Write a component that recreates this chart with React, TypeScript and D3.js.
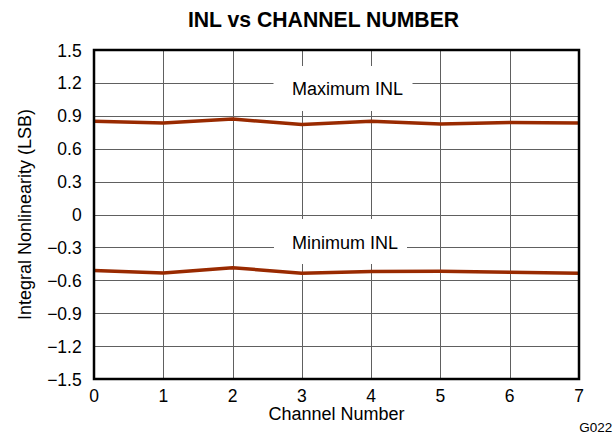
import React from "react";
import * as d3 from "d3";

const channels = [0, 1, 2, 3, 4, 5, 6, 7];
const maxINL = [0.85, 0.835, 0.87, 0.82, 0.85, 0.825, 0.84, 0.835];
const minINL = [-0.51, -0.533, -0.485, -0.535, -0.52, -0.518, -0.527, -0.536];
const yTicks = [1.5, 1.2, 0.9, 0.6, 0.3, 0, -0.3, -0.6, -0.9, -1.2, -1.5];
const xTicks = [0, 1, 2, 3, 4, 5, 6, 7];

const W = 616;
const H = 434;
const M = { left: 94, right: 579, top: 50, bottom: 379 };
const FONT = "'Liberation Sans', Arial, Helvetica, sans-serif";
const LINE = "#992a00";
const GRID = "#606060";

function fmt(v: number): string {
  if (v === 0) return "0";
  const s = Math.abs(v).toFixed(1);
  return v < 0 ? "\u2212" + s : s;
}

export default function App() {
  const x = d3.scaleLinear().domain([0, 7]).range([M.left, M.right]);
  const y = d3.scaleLinear().domain([-1.5, 1.5]).range([M.bottom, M.top]);
  const line = d3
    .line<number>()
    .x((_, i) => x(channels[i]))
    .y((d) => y(d))
    .curve(d3.curveLinear);

  return (
    <div style={{ position: "absolute", left: 0, top: 0 }}>
      <svg width={W} height={H} style={{ display: "block", background: "#fff" }} fontFamily={FONT}>
        <rect x={0} y={0} width={W} height={H} fill="#fff" />
        <text x={323.5} y={26.5} textAnchor="middle" fontSize={21.2} fontWeight="bold" fill="#000">
          INL vs CHANNEL NUMBER
        </text>
        {/* grid */}
        {yTicks.map((t) => (
          <line key={"gy" + t} x1={M.left} x2={M.right} y1={Math.round(y(t)) + 0.5} y2={Math.round(y(t)) + 0.5} stroke={GRID} strokeWidth={1} />
        ))}
        {xTicks.map((t) => (
          <line key={"gx" + t} x1={Math.round(x(t)) + 0.5} x2={Math.round(x(t)) + 0.5} y1={M.top} y2={M.bottom} stroke={GRID} strokeWidth={1} />
        ))}
        {/* label boxes */}
        <rect x={273.5} y={66} width={139} height={45} fill="#fff" />
        <rect x={274} y={219} width={133} height={45} fill="#fff" />
        <text x={347.5} y={95} textAnchor="middle" fontSize={18} fill="#000">Maximum INL</text>
        <text x={345} y={248.5} textAnchor="middle" fontSize={18} fill="#000">Minimum INL</text>
        {/* data */}
        <path d={line(maxINL) || ""} fill="none" stroke={LINE} strokeWidth={3.5} strokeLinejoin="round" />
        <path d={line(minINL) || ""} fill="none" stroke={LINE} strokeWidth={3.5} strokeLinejoin="round" />
        {/* frame */}
        <rect x={M.left} y={M.top} width={M.right - M.left} height={M.bottom - M.top} fill="none" stroke="#000" strokeWidth={2.5} />
        {/* tick labels */}
        {yTicks.map((t) => (
          <text key={"ty" + t} x={81.7} y={y(t) + 6.5} textAnchor="end" fontSize={17.5} fill="#000">
            {fmt(t)}
          </text>
        ))}
        {xTicks.map((t) => (
          <text key={"tx" + t} x={x(t)} y={401.5} textAnchor="middle" fontSize={17.5} fill="#000">
            {t}
          </text>
        ))}
        <text x={(M.left + M.right) / 2} y={420} textAnchor="middle" fontSize={18} fill="#000">
          Channel Number
        </text>
        <text transform={`translate(31,${(M.top + M.bottom) / 2}) rotate(-90)`} textAnchor="middle" fontSize={18} fill="#000">
          Integral Nonlinearity (LSB)
        </text>
        <text x={579.3} y={431.5} fontSize={12} textLength={33} lengthAdjust="spacingAndGlyphs" fill="#000">
          G022
        </text>
      </svg>
    </div>
  );
}
